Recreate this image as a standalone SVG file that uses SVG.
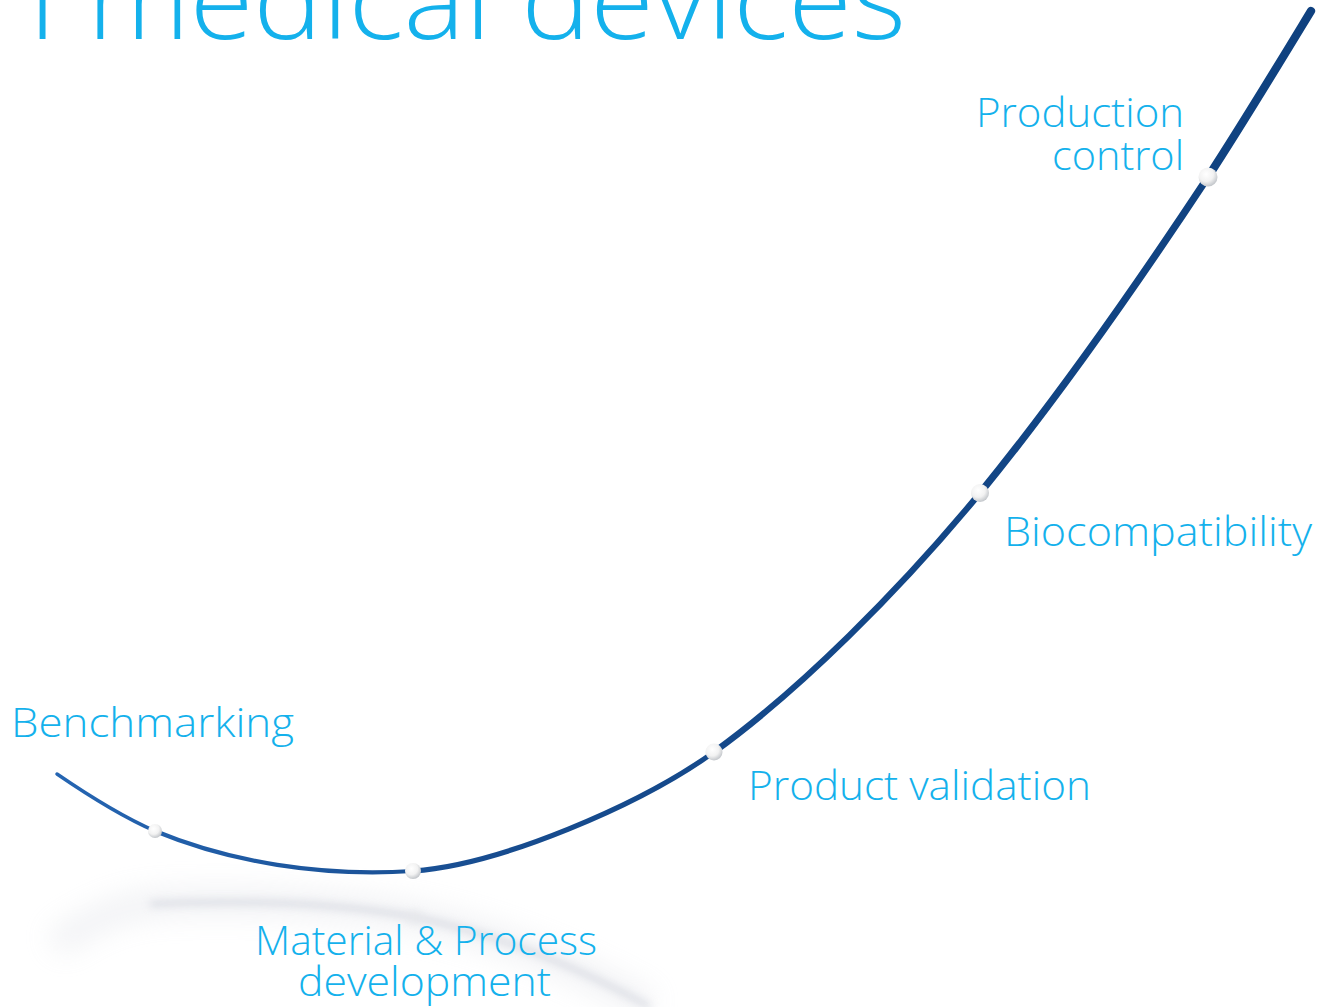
<svg xmlns="http://www.w3.org/2000/svg" width="1335" height="1007" viewBox="0 0 1335 1007">
  <defs>
    <style>
      .label { font-family: "Open Sans", "Liberation Sans", sans-serif; font-weight: 300; font-size: 40px; fill: #14b1ec; }
      .title { font-family: "Open Sans", "Liberation Sans", sans-serif; font-weight: 300; font-size: 110px; fill: #14b1ec; }
      .tube { fill: none; stroke: url(#tubeGrad); stroke-linecap: round; }
      .bead { fill: url(#beadGrad); }
    </style>
    <linearGradient id="tubeGrad" gradientUnits="userSpaceOnUse" x1="57" y1="0" x2="1311" y2="0">
      <stop offset="0" stop-color="#2565b2"/>
      <stop offset="0.35" stop-color="#174c8f"/>
      <stop offset="1" stop-color="#0f417f"/>
    </linearGradient>
    <radialGradient id="beadGrad" cx="0.4" cy="0.35" r="0.7">
      <stop offset="0" stop-color="#ffffff"/>
      <stop offset="0.55" stop-color="#f2f2f2"/>
      <stop offset="1" stop-color="#bcc0c5"/>
    </radialGradient>
    <filter id="soft" x="-20%" y="-50%" width="140%" height="200%">
      <feGaussianBlur stdDeviation="4"/>
    </filter>
    <filter id="haze" x="-20%" y="-50%" width="140%" height="200%">
      <feGaussianBlur stdDeviation="14"/>
    </filter>
  </defs>

  <rect width="1335" height="1007" fill="#ffffff"/>

  <!-- heading, cropped at the top edge -->
  <text class="title" x="28" y="39" textLength="878" lengthAdjust="spacingAndGlyphs">I medical devices</text>

  <!-- mirrored reflection of the curve on the floor -->
  <g id="reflection">
    <path d="M55,945 C 90,920 120,906 160,903 C 260,899 350,905 415,917 C 500,935 580,968 650,1007" fill="none" stroke="#d0d3dc" stroke-width="26" opacity="0.3" filter="url(#haze)"/>
    <path d="M150,904 C 260,899 350,905 415,917 C 500,935 580,968 650,1007" fill="none" stroke="#b3b8c6" stroke-width="5" opacity="0.5" filter="url(#soft)"/>
    <circle cx="415" cy="918" r="8" fill="#e8e9ec" opacity="0.6" filter="url(#soft)"/>
  </g>

  <!-- curve, thickening towards the far end -->
  <g id="connectors">
    <path class="tube" stroke-width="3.5" d="M57,774 C 95,800 125,818 155,831"/>
    <path class="tube" stroke-width="4.2" d="M155,831 C 230,862 320,877 413,871"/>
    <path class="tube" stroke-width="5.2" d="M413,871 C 500,865 640,805 714,752"/>
    <path class="tube" stroke-width="6.2" d="M714,752 C 800,690 900,590 980,493"/>
    <path class="tube" stroke-width="7.2" d="M980,493 C 1060,395 1140,280 1208,177"/>
    <path class="tube" stroke-width="8.2" d="M1208,177 C 1245,120 1280,62 1311,11"/>
  </g>

  <g id="benchmarking">
    <circle class="bead" cx="155" cy="831" r="7"/>
    <text class="label" x="11" y="737" textLength="283" lengthAdjust="spacingAndGlyphs">Benchmarking</text>
  </g>

  <g id="material-process">
    <circle class="bead" cx="413" cy="871" r="8"/>
    <text class="label" x="255" y="955" textLength="342" lengthAdjust="spacingAndGlyphs">Material &amp; Process</text>
    <text class="label" x="298" y="996" textLength="253" lengthAdjust="spacingAndGlyphs">development</text>
  </g>

  <g id="product-validation">
    <circle class="bead" cx="714" cy="752" r="8.5"/>
    <text class="label" x="748" y="800" textLength="343" lengthAdjust="spacingAndGlyphs">Product validation</text>
  </g>

  <g id="biocompatibility">
    <circle class="bead" cx="980" cy="493" r="9"/>
    <text class="label" x="1004" y="546" textLength="308" lengthAdjust="spacingAndGlyphs">Biocompatibility</text>
  </g>

  <g id="production-control">
    <circle class="bead" cx="1208" cy="177" r="9.5"/>
    <text class="label" x="976" y="127" textLength="208" lengthAdjust="spacingAndGlyphs">Production</text>
    <text class="label" x="1052" y="170" textLength="132" lengthAdjust="spacingAndGlyphs">control</text>
  </g>
</svg>
